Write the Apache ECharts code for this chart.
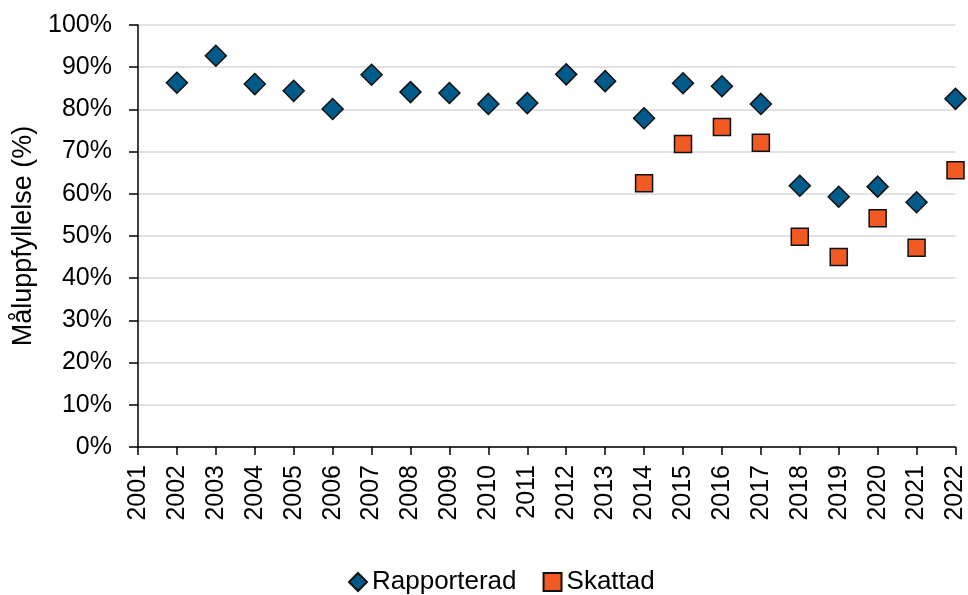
<!DOCTYPE html>
<html><head><meta charset="utf-8">
<script src="https://cdn.jsdelivr.net/npm/echarts@6/dist/echarts.min.js"></script>
<style>html,body{margin:0;padding:0;background:#fff}#c{width:968px;height:595px}</style>
</head><body><div id="c"></div>
<script>
const years = [2002,2003,2004,2005,2006,2007,2008,2009,2010,2011,2012,2013,2014,2015,2016,2017,2018,2019,2020,2021,2022];
const rapporterad = [86.3,92.7,86.0,84.4,80.1,88.2,84.1,83.9,81.3,81.5,88.3,86.7,77.9,86.2,85.5,81.3,61.9,59.3,61.7,58.0,82.5];
const skattadYears = [2014,2015,2016,2017,2018,2019,2020,2021,2022];
const skattad = [62.5,71.8,75.8,72.1,49.8,45.0,54.2,47.2,65.6];
const yTicks = [0,10,20,30,40,50,60,70,80,90,100];

const font = 'Liberation Sans, Arial, sans-serif';
const chart = echarts.init(document.getElementById('c'));
chart.setOption({
  animation: false,
  grid: {left: 138, right: 12, top: 25, bottom: 148, containLabel: false},
  legend: {
    top: 564, left: 343, itemGap: 26, itemWidth: 18, itemHeight: 18,
    textStyle: {fontFamily: font, fontSize: 26, color: '#000'},
    data: [{name: 'Rapporterad', icon: 'diamond'}, {name: 'Skattad', icon: 'rect'}]
  },
  xAxis: {
    type: 'value', min: 2001, max: 2022, interval: 1,
    axisLine: {show: true, lineStyle: {color: '#000', width: 1.5}},
    axisTick: {show: true, length: 8, lineStyle: {color: '#000', width: 1.5}},
    splitLine: {show: false},
    axisLabel: {rotate: 90, fontFamily: font, fontSize: 25, color: '#000', margin: 18,
      formatter: v => String(v)}
  },
  yAxis: {
    type: 'value', min: 0, max: 100, interval: 10,
    name: 'Måluppfyllelse (%)', nameLocation: 'middle', nameGap: 97,
    nameTextStyle: {fontFamily: font, fontSize: 27, color: '#000'},
    axisLine: {show: true, lineStyle: {color: '#000', width: 1.5}},
    axisTick: {show: true, length: 9, lineStyle: {color: '#000', width: 1.5}},
    splitLine: {show: true, lineStyle: {color: '#d9d9d9', width: 1.5}},
    axisLabel: {fontFamily: font, fontSize: 25, color: '#000', margin: 26,
      formatter: v => v + '%'}
  },
  series: [
    {name: 'Rapporterad', type: 'scatter', symbol: 'diamond', symbolSize: 21,
     itemStyle: {color: '#005b8a', opacity: 1, borderColor: '#111', borderWidth: 1.5},
     data: years.map((y, i) => [y, rapporterad[i]])},
    {name: 'Skattad', type: 'scatter', symbol: 'rect', symbolSize: 17,
     itemStyle: {color: '#f15a22', opacity: 1, borderColor: '#111', borderWidth: 1.5},
     data: skattadYears.map((y, i) => [y, skattad[i]])}
  ]
});
</script></body></html>
